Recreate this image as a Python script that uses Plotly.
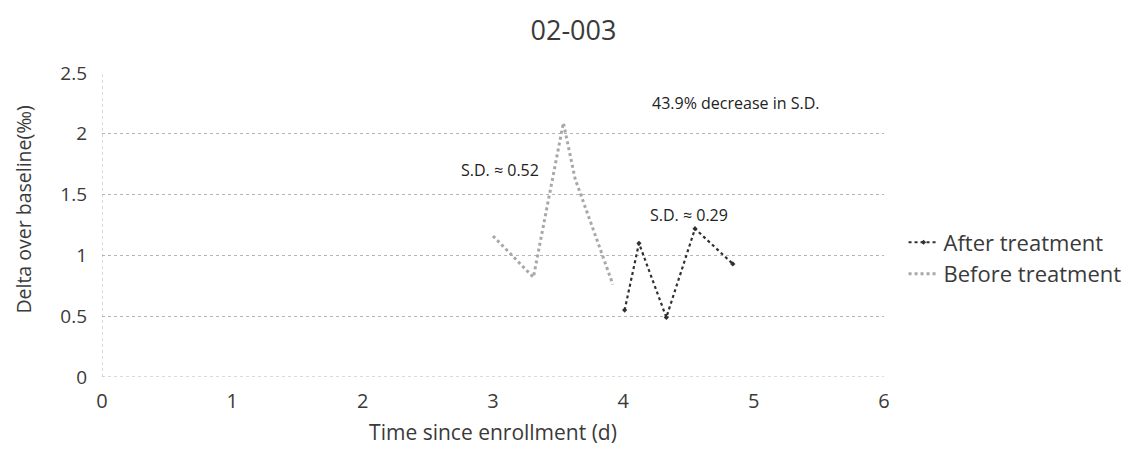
import plotly.graph_objects as go

title = "02-003"
before_x = [3.0, 3.31, 3.54, 3.63, 3.92]
before_y = [1.16, 0.82, 2.09, 1.63, 0.76]
after_x = [4.01, 4.12, 4.33, 4.55, 4.84]
after_y = [0.55, 1.10, 0.49, 1.22, 0.93]
x_ticks = [0, 1, 2, 3, 4, 5, 6]
y_ticks = [0, 0.5, 1, 1.5, 2, 2.5]
ann_text = ["43.9% decrease in S.D.", "S.D. ≈ 0.52", "S.D. ≈ 0.29"]
ann_x = [4.86, 3.05, 4.5]
ann_y = [2.25, 1.70, 1.33]

font = "Open Sans"
txt = "#3a3a3a"
fig = go.Figure()
fig.add_trace(go.Scatter(x=after_x, y=after_y, name="After treatment", mode="lines+markers",
                         line=dict(color="#303030", width=2.2, dash="dot"),
                         marker=dict(symbol="diamond", size=4, color="#303030")))
fig.add_trace(go.Scatter(x=before_x, y=before_y, name="Before treatment", mode="lines",
                         line=dict(color="#a8a8a8", width=3, dash="dot")))

for t, x, y in zip(ann_text, ann_x, ann_y):
    fig.add_annotation(x=x, y=y, text=t, showarrow=False,
                       font=dict(family=font, size=16, color="#222222"))

# y axis title (placed like the reference, slightly above centre)
fig.add_annotation(xref="paper", yref="paper", x=-0.1, y=0.55, text="Delta over baseline(‰)",
                   textangle=-90, showarrow=False, xanchor="center", yanchor="middle",
                   font=dict(family=font, size=19.5, color=txt))

fig.update_layout(
    width=1131, height=454,
    margin=dict(l=94, r=243, t=65, b=85),
    paper_bgcolor="white", plot_bgcolor="white",
    title=dict(text=title, x=0.5, xanchor="center", y=0.95, yanchor="middle",
               font=dict(family=font, size=27, color=txt)),
    font=dict(family=font, color=txt),
    showlegend=True,
    legend=dict(x=1.025, y=0.39, xanchor="left", yanchor="middle",
                font=dict(family=font, size=22, color=txt),
                tracegroupgap=0, itemwidth=30),
    xaxis=dict(range=[0, 6], tickvals=x_ticks, showgrid=False, zeroline=False,
               showline=False, ticks="", tickfont=dict(size=20, family=font),
               ticklabelstandoff=10, automargin=False,
               title=dict(text="Time since enrollment (d)", font=dict(size=21, family=font), standoff=12)),
    yaxis=dict(range=[0, 2.5], tickvals=y_ticks, showgrid=True, gridcolor="#b5b5b5",
               griddash="dot", gridwidth=1, zeroline=False, showline=False, ticks="",
               tickfont=dict(size=19, family=font), ticklabelstandoff=14, automargin=False),
)
fig.add_shape(type="line", xref="x", yref="y", x0=0, x1=0, y0=0, y1=2.5,
              line=dict(color="#b5b5b5", width=1, dash="dot"))
fig.add_shape(type="line", xref="x", yref="y", x0=0, x1=6, y0=0, y1=0,
              line=dict(color="#b5b5b5", width=1, dash="dot"))
fig.write_html("out.html")
